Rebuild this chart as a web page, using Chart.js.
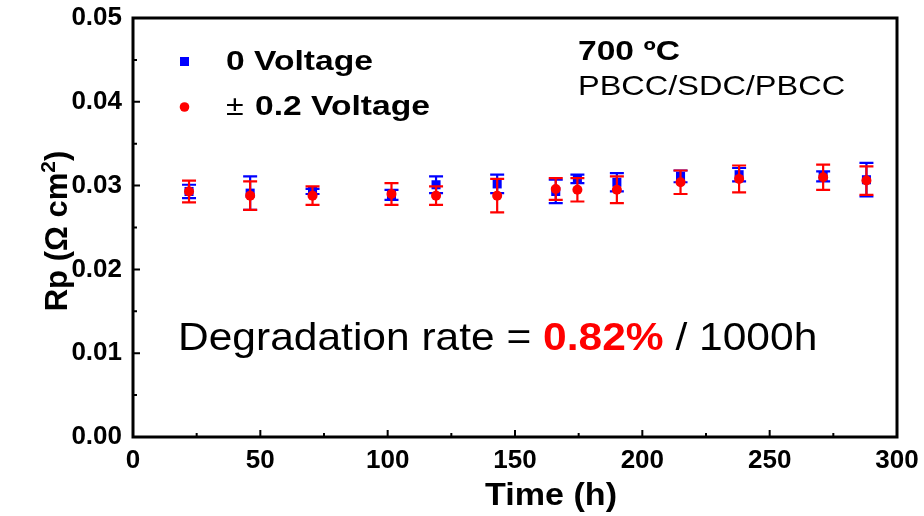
<!DOCTYPE html>
<html><head><meta charset="utf-8">
<script src="https://cdn.jsdelivr.net/npm/chart.js@4/dist/chart.umd.min.js"></script>
<style>html,body{margin:0;padding:0;background:#fff}</style>
</head><body>
<canvas id="c" width="924" height="516"></canvas>
<script>
// ---- data ----
const times = [22, 46, 70.5, 101.5, 119, 143, 166, 174.5, 190, 215, 238, 271, 288];
const rpZero = [0.0293, 0.0291, 0.0293, 0.0289, 0.0301, 0.0302, 0.0293, 0.0308, 0.0304, 0.0311, 0.0313, 0.0311, 0.0307];
const rpZeroErr = [0.0008, 0.0020, 0.0003, 0.0006, 0.0010, 0.0011, 0.0014, 0.0005, 0.0011, 0.0007, 0.0008, 0.0006, 0.0020];
const rpBias = [0.0293, 0.0288, 0.0288, 0.0290, 0.0288, 0.0288, 0.0296, 0.0295, 0.0295, 0.0304, 0.0308, 0.0310, 0.0306];
const rpBiasErr = [0.0013, 0.0017, 0.0011, 0.0013, 0.0011, 0.0020, 0.0013, 0.0014, 0.0016, 0.0014, 0.0016, 0.0015, 0.0017];
const xMajorTicks = [0, 50, 100, 150, 200, 250, 300];
const xMinorTicks = [25, 75, 125, 175, 225, 275];
const yMajorTicks = [0, 0.01, 0.02, 0.03, 0.04, 0.05];
const yMinorTicks = [0.005, 0.015, 0.025, 0.035, 0.045];
const seriesNames = ['0 Voltage', '\u00b1 0.2 Voltage'];

const FONT = '"Liberation Sans", Arial, Helvetica, sans-serif';
const BLUE = '#0000ff', RED = '#ff0000';

function sText(ctx, txt, x, y, font, color, sx) {
  ctx.save();
  ctx.font = font; ctx.fillStyle = color;
  ctx.textBaseline = 'alphabetic'; ctx.textAlign = 'left';
  ctx.translate(x, y); ctx.scale(sx, 1);
  ctx.fillText(txt, 0, 0);
  const w = ctx.measureText(txt).width * sx;
  ctx.restore();
  return w;
}

const errorBars = {
  id: 'errorBars',
  beforeDatasetDraw(chart, args) {
    const ds = chart.data.datasets[args.index];
    const ctx = chart.ctx, xs = chart.scales.x, ys = chart.scales.y;
    ctx.save();
    ctx.strokeStyle = ds.errColor; ctx.lineWidth = 2.2;
    ds.data.forEach((p, i) => {
      const e = ds.errors[i];
      const px = xs.getPixelForValue(p.x);
      const t = ys.getPixelForValue(p.y + e), b = ys.getPixelForValue(p.y - e);
      ctx.beginPath();
      ctx.moveTo(px, t); ctx.lineTo(px, b);
      ctx.moveTo(px - 7, t); ctx.lineTo(px + 7, t);
      ctx.moveTo(px - 7, b); ctx.lineTo(px + 7, b);
      ctx.stroke();
    });
    ctx.restore();
  }
};

const decor = {
  id: 'decor',
  afterDraw(chart) {
    const ctx = chart.ctx, a = chart.chartArea, xs = chart.scales.x, ys = chart.scales.y;
    ctx.save();
    // frame
    ctx.strokeStyle = '#000'; ctx.lineWidth = 3;
    ctx.strokeRect(a.left, a.top, a.right - a.left, a.bottom - a.top);
    // ticks (inward)
    ctx.lineWidth = 2;
    ctx.beginPath();
    xMajorTicks.forEach(v => { const p = xs.getPixelForValue(v); ctx.moveTo(p, a.bottom); ctx.lineTo(p, a.bottom - 7); });
    xMinorTicks.forEach(v => { const p = xs.getPixelForValue(v); ctx.moveTo(p, a.bottom); ctx.lineTo(p, a.bottom - 4); });
    yMajorTicks.forEach(v => { const p = ys.getPixelForValue(v); ctx.moveTo(a.left, p); ctx.lineTo(a.left + 7, p); });
    yMinorTicks.forEach(v => { const p = ys.getPixelForValue(v); ctx.moveTo(a.left, p); ctx.lineTo(a.left + 4, p); });
    ctx.stroke();
    ctx.restore();

    // axis titles
    ctx.save();
    ctx.font = 'bold 31px ' + FONT;
    let w = ctx.measureText('Time (h)').width * 1.1;
    sText(ctx, 'Time (h)', 551 - w / 2, 505, 'bold 31px ' + FONT, '#000', 1.1);
    ctx.restore();

    ctx.save();
    ctx.translate(67, 231);
    ctx.rotate(-Math.PI / 2);
    ctx.font = 'bold 31px ' + FONT;
    const t1 = 'Rp (\u03a9 cm', t2 = '2', t3 = ')';
    const w1 = ctx.measureText(t1).width;
    ctx.font = 'bold 21px ' + FONT;
    const w2 = ctx.measureText(t2).width;
    ctx.font = 'bold 31px ' + FONT;
    const w3 = ctx.measureText(t3).width;
    let x0 = -(w1 + w2 + w3) / 2;
    ctx.fillStyle = '#000'; ctx.textBaseline = 'alphabetic';
    ctx.fillText(t1, x0, 0);
    ctx.font = 'bold 21px ' + FONT;
    ctx.fillText(t2, x0 + w1, -12);
    ctx.font = 'bold 31px ' + FONT;
    ctx.fillText(t3, x0 + w1 + w2, 0);
    ctx.restore();

    // legend
    ctx.save();
    ctx.fillStyle = BLUE;
    ctx.fillRect(180, 57, 9, 9);
    ctx.fillStyle = RED;
    ctx.beginPath(); ctx.arc(184.5, 107, 4.8, 0, Math.PI * 2); ctx.fill();
    ctx.restore();
    sText(ctx, seriesNames[0], 226, 70, 'bold 28px ' + FONT, '#000', 1.2);
    sText(ctx, '\u00b1 ', 226, 115, '28px ' + FONT, '#000', 1.15);
    sText(ctx, '0.2 Voltage', 255, 115, 'bold 28px ' + FONT, '#000', 1.2);

    // annotations
    sText(ctx, '700 \u00baC', 578, 60, 'bold 28px ' + FONT, '#000', 1.2);
    sText(ctx, 'PBCC/SDC/PBCC', 578, 95, '28px ' + FONT, '#000', 1.16);
    let x = 178;
    x += sText(ctx, 'Degradation rate = ', x, 350, '39px ' + FONT, '#000', 1.09);
    x += sText(ctx, '0.82%', x, 350, 'bold 39px ' + FONT, RED, 1.09);
    sText(ctx, ' / 1000h', x, 350, '39px ' + FONT, '#000', 1.09);
  }
};

const toPts = (xs, ys) => xs.map((x, i) => ({ x: x, y: ys[i] }));

new Chart(document.getElementById('c'), {
  type: 'scatter',
  data: {
    datasets: [
      {
        label: seriesNames[1], data: toPts(times, rpBias), errors: rpBiasErr, errColor: RED,
        pointStyle: 'circle', pointRadius: 5, backgroundColor: RED, borderColor: RED, borderWidth: 0,
        order: 1
      },
      {
        label: seriesNames[0], data: toPts(times, rpZero), errors: rpZeroErr, errColor: BLUE,
        pointStyle: 'rect', pointRadius: 6.4, backgroundColor: BLUE, borderColor: BLUE, borderWidth: 0,
        order: 2
      }
    ]
  },
  options: {
    responsive: false,
    animation: false,
    layout: { padding: { top: 18, right: 27, left: 0, bottom: 0 } },
    plugins: { legend: { display: false }, tooltip: { enabled: false } },
    scales: {
      x: {
        type: 'linear', min: 0, max: 300,
        afterFit: s => { s.height = 79; s.paddingLeft = 0; s.paddingRight = 0; },
        grid: { display: false, drawTicks: false },
        border: { display: false },
        ticks: { stepSize: 50, color: '#000', padding: 8, font: { family: FONT, size: 26, weight: 'bold' } }
      },
      y: {
        type: 'linear', min: 0, max: 0.05,
        afterFit: s => { s.width = 133; s.paddingTop = 0; s.paddingBottom = 0; },
        grid: { display: false, drawTicks: false },
        border: { display: false },
        ticks: { stepSize: 0.01, color: '#000', padding: 11, font: { family: FONT, size: 26, weight: 'bold' },
          callback: v => Number(v).toFixed(2) }
      }
    }
  },
  plugins: [errorBars, decor]
});
</script>
</body></html>
